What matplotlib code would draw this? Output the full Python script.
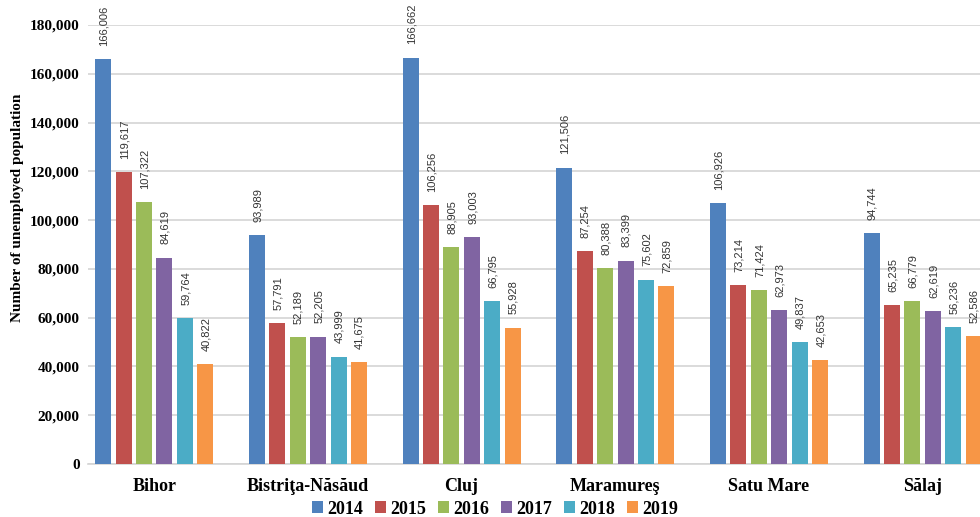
import matplotlib
matplotlib.use("Agg")
import matplotlib.pyplot as plt
from matplotlib.patches import Patch
import numpy as np

categories = ["Bihor", "Bistriţa-Năsăud", "Cluj", "Maramureş", "Satu Mare", "Sălaj"]
years = ["2014", "2015", "2016", "2017", "2018", "2019"]
v2014 = [166006, 93989, 166662, 121506, 106926, 94744]
v2015 = [119617, 57791, 106256, 87254, 73214, 65235]
v2016 = [107322, 52189, 88905, 80388, 71424, 66779]
v2017 = [84619, 52205, 93003, 83399, 62973, 62619]
v2018 = [59764, 43999, 66795, 75602, 49837, 56236]
v2019 = [40822, 41675, 55928, 72859, 42653, 52586]
series = [v2014, v2015, v2016, v2017, v2018, v2019]
colors = ["#4F81BD", "#C0504D", "#9BBB59", "#8064A2", "#4BACC6", "#F79646"]

serif = ["Liberation Serif", "DejaVu Serif"]
sans = ["Liberation Sans", "DejaVu Sans"]

fig = plt.figure(figsize=(9.8, 5.17), dpi=100)
ax = fig.add_axes([88/980, 53/517, 892/980, 439/517])

x = np.arange(len(categories))
step = 0.133
width = 0.104
for j, (vals, c) in enumerate(zip(series, colors)):
    xs = x + (j - 2.5) * step
    ax.bar(xs, vals, width=width, color=c, linewidth=0, zorder=3)
    for xi, v in zip(xs, vals):
        ax.annotate(f"{v:,}", (xi, v), xytext=(0.5, 9.5), textcoords="offset points",
                    rotation=90, ha="center", va="bottom", fontsize=8,
                    family=sans, color="#333333", annotation_clip=False)

ax.set_xlim(-0.431, 5.373)
ax.set_ylim(0, 180000)
ax.set_yticks(np.arange(0, 180001, 20000))
ax.yaxis.set_major_formatter(matplotlib.ticker.FuncFormatter(lambda v, p: f"{int(v):,}"))
ax.grid(axis="y", color="#d4d4d4", linewidth=1.2, zorder=0)
ax.set_axisbelow(True)
for s in ["top", "right", "left"]:
    ax.spines[s].set_visible(False)
ax.spines["bottom"].set_color("#d4d4d4")
ax.spines["bottom"].set_linewidth(1.2)
ax.set_xticks(x)
ax.set_xticklabels(categories)
ax.tick_params(axis="both", length=0)
ax.tick_params(axis="x", pad=10)
ax.tick_params(axis="y", pad=6)
for lab in ax.get_yticklabels():
    lab.set_fontfamily(serif)
    lab.set_fontweight("bold")
    lab.set_fontsize(11)
for lab in ax.get_xticklabels():
    lab.set_fontfamily(serif)
    lab.set_fontweight("bold")
    lab.set_fontsize(13)

fig.text(18/980, 1 - 208/517, "Number of unemployed population", rotation=90,
         ha="center", va="center", family=serif, fontweight="bold", fontsize=11)

handles = [Patch(facecolor=c, edgecolor="none") for c in colors]
fig.legend(handles, years, loc="center", bbox_to_anchor=(495/980, 1 - 509/517), ncol=6,
           frameon=False, prop={"family": serif, "weight": "bold", "size": 13},
           handlelength=0.6, handleheight=0.6, handletextpad=0.25, columnspacing=0.65,
           borderaxespad=0, borderpad=0)

fig.savefig("out.png", dpi=100)
